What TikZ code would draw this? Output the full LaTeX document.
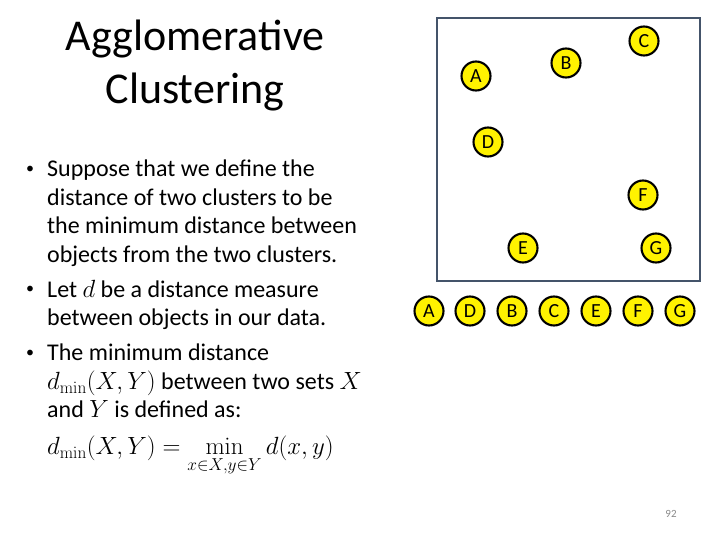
\documentclass[tikz,border=0pt]{standalone}
\usepackage{amsmath}
\usepackage[no-math]{fontspec}
\setmainfont{Carlito}
\definecolor{frame}{RGB}{68,84,106}
\definecolor{pagenum}{RGB}{137,137,137}
\tikzset{pt/.style = {circle, draw = black, line width = 2.1pt, fill = yellow, minimum size = 29pt, inner sep = 0pt, font = \fontsize{20}{20}\selectfont},
  body/.style = {anchor = north west, inner sep = 0pt, align = left, font = \fontsize{24}{28.5}\selectfont},
  dot/.style = {anchor = center, inner sep = 0pt, font = \fontsize{16}{16}\selectfont}}

\begin{document}
\begin{tikzpicture}[x = 1pt, y = -1pt]
\useasboundingbox (0,0) rectangle (720,540);
\node[align = center, font = \fontsize{44}{53}\selectfont] (title) at (195,66) {Agglomerative\\Clustering};
\draw[frame, line width = 2.6pt] (437,18) rectangle (700,281);
\node[pt] (A) at (476,76) {A};
\node[pt] (B) at (566,63) {B};
\node[pt] (C) at (644,41) {C};
\node[pt] (D) at (488,142) {D};
\node[pt] (F) at (643,195) {F};
\node[pt] (E) at (523,248) {E};
\node[pt] (G) at (656,248) {G};
\node[pt] (A1) at (429,311) {A};
\node[pt] (D1) at (470,311) {D};
\node[pt] (B1) at (512,311) {B};
\node[pt] (C1) at (554,311) {C};
\node[pt] (E1) at (596,311) {E};
\node[pt] (F1) at (638,311) {F};
\node[pt] (G1) at (680,311) {G};
\node[dot] (b1) at (30,170) {•};
\node[body] (s1) at (47,160) {Suppose that we define the\\distance of two clusters to be\\the minimum distance between\\objects from the two clusters.};
\node[dot] (b2) at (30,290) {•};
\node[body] (s2) at (47,280) {Let $d$ be a distance measure\\between objects in our data.};
\node[dot] (b3) at (30,354) {•};
\node[body] (s3) at (47,344) {The minimum distance\\$d_{\min}(X,Y)$ between two sets $X$\\and $Y$ is defined as:};
\node[body] (eq) at (47,436) {$\displaystyle d_{\min}(X,Y) = \min_{x\in X, y\in Y} d(x,y)$};
\node[pagenum, font = \fontsize{11}{11}\selectfont] (num) at (671,514) {92};
\end{tikzpicture}
\end{document}
